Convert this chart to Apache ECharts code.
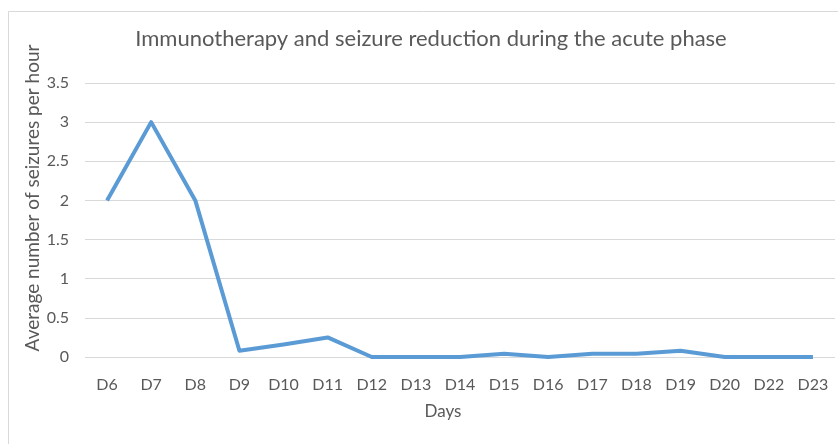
<!DOCTYPE html>
<html><head><meta charset="utf-8">
<script src="https://cdn.jsdelivr.net/npm/echarts@6/dist/echarts.min.js"></script>
<style>html,body{margin:0;padding:0;background:#fff}#c{width:838px;height:444px}</style>
</head><body><div id="c"></div>
<script>
const categories = ['D6','D7','D8','D9','D10','D11','D12','D13','D14','D15','D16','D17','D18','D19','D20','D22','D23'];
const seizures = [2, 3, 2, 0.08, 0.16, 0.25, 0, 0, 0, 0.04, 0, 0.04, 0.04, 0.08, 0, 0, 0];
const yTicks = [0, 0.5, 1, 1.5, 2, 2.5, 3, 3.5];
const titleText = 'Immunotherapy and seizure reduction during the acute phase';
const xName = 'Days';
const yName = 'Average number of seizures per hour';
const font = 'Lato, "Open Sans", sans-serif';
const chart = echarts.init(document.getElementById('c'), null, {renderer:'canvas'});
chart.setOption({
  animation:false,
  backgroundColor:'#fff',
  title:{text:titleText,left:426,top:23,textAlign:'center',textStyle:{fontFamily:font,fontWeight:'normal',fontSize:22,color:'#595959'}},
  graphic:[
    {type:'line',shape:{x1:8.5,y1:11.5,x2:838,y2:11.5},style:{stroke:'#d9d9d9',lineWidth:1}},
    {type:'line',shape:{x1:8.5,y1:11.5,x2:8.5,y2:444},style:{stroke:'#d9d9d9',lineWidth:1}},
    {type:'text',x:33,y:198,rotation:Math.PI/2,style:{text:yName,fontFamily:font,fontSize:19,fill:'#595959',align:'center',verticalAlign:'middle'}},
    {type:'text',x:443,y:412,style:{text:xName,fontFamily:font,fontSize:17,fill:'#595959',align:'center',verticalAlign:'middle'}}
  ],
  grid:{left:85,right:3,top:83,bottom:87,containLabel:false},
  xAxis:{type:'category',data:categories,boundaryGap:true,
    axisLine:{show:false},axisTick:{show:false},
    axisLabel:{fontFamily:font,fontSize:16,color:'#595959',margin:20}},
  yAxis:{type:'value',min:yTicks[0],max:yTicks[yTicks.length-1],interval:0.5,
    axisLine:{show:false},axisTick:{show:false},
    axisLabel:{fontFamily:font,fontSize:16,color:'#595959',margin:16},
    splitLine:{lineStyle:{color:'#d9d9d9',width:1}}},
  series:[{type:'line',data:seizures,symbol:'none',lineStyle:{color:'#5b9bd5',width:4,join:'round'}}]
});
</script></body></html>
